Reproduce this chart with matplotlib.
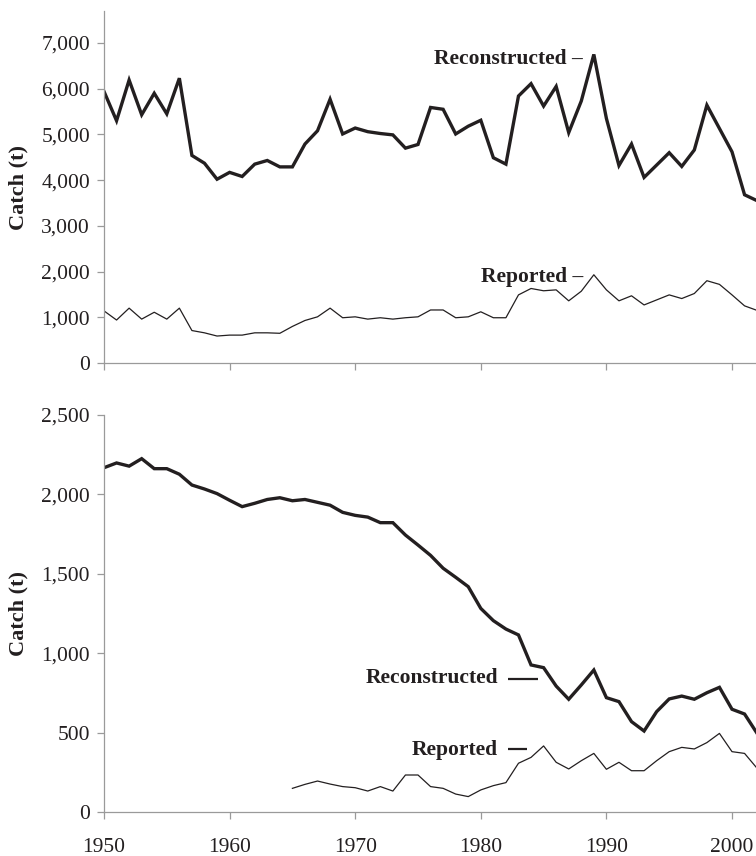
import matplotlib
matplotlib.use("Agg")
import matplotlib.pyplot as plt
from matplotlib.ticker import FuncFormatter

years_top = list(range(1950, 2003))
recon_top = [5940, 5300, 6190, 5430, 5900, 5450, 6230, 4540, 4370, 4020,
             4170, 4080, 4350, 4430, 4290, 4290, 4790, 5080, 5770, 5010,
             5140, 5060, 5020, 4990, 4700, 4780, 5590, 5550, 5010, 5180,
             5310, 4490, 4350, 5840, 6110, 5620, 6050, 5040, 5730, 6750,
             5350, 4320, 4790, 4060, 4330, 4600, 4300, 4660, 5640, 5130,
             4620, 3680, 3550]
rep_top = [1140, 940, 1200, 960, 1110, 960, 1200, 710, 660, 590,
           610, 610, 660, 660, 650, 800, 930, 1010, 1200, 990,
           1010, 960, 990, 960, 990, 1010, 1160, 1160, 990, 1010,
           1120, 990, 990, 1490, 1630, 1580, 1600, 1360, 1570, 1930,
           1600, 1360, 1470, 1270, 1380, 1490, 1410, 1520, 1800, 1720,
           1490, 1250, 1150]

years_bot = list(range(1950, 2003))
recon_bot = [2168, 2198, 2178, 2225, 2162, 2162, 2127, 2059, 2034, 2005,
             1963, 1923, 1944, 1968, 1979, 1960, 1968, 1950, 1932, 1887,
             1868, 1857, 1822, 1822, 1744, 1681, 1616, 1535, 1478, 1419,
             1282, 1205, 1152, 1115, 926, 909, 793, 710, 800, 894,
             720, 695, 569, 510, 632, 712, 730, 710, 751, 785,
             647, 617, 495]
years_rep_bot = list(range(1965, 2003))
rep_bot = [149, 174, 195, 176, 160, 153, 132, 160, 132, 233,
           233, 160, 149, 113, 97, 139, 166, 185, 307, 344,
           416, 313, 271, 323, 369, 269, 313, 260, 260, 323,
           380, 407, 397, 437, 495, 380, 369, 275]

top_yticks = [0, 1000, 2000, 3000, 4000, 5000, 6000, 7000]
bot_yticks = [0, 500, 1000, 1500, 2000, 2500]
xticks = [1950, 1960, 1970, 1980, 1990, 2000]

plt.rcParams['font.family'] = ['Liberation Serif', 'DejaVu Serif']
INK = '#231f20'
SPINE = '#9a9a9a'

W, H = 756, 856
fig = plt.figure(figsize=(W / 100, H / 100), dpi=100)

x_left, x_right = 104, 756
xmax = 1950 + (x_right - x_left) / 12.56

ax1 = fig.add_axes([x_left / W, 1 - 363 / H, (x_right - x_left) / W, 352 / H])
ax2 = fig.add_axes([x_left / W, 1 - 812 / H, (x_right - x_left) / W, 397 / H])

fmt = FuncFormatter(lambda v, p: f"{v:,.0f}")

for ax in (ax1, ax2):
    for s in ('top', 'right'):
        ax.spines[s].set_visible(False)
    for s in ('left', 'bottom'):
        ax.spines[s].set_color(SPINE)
        ax.spines[s].set_linewidth(0.9)
    ax.set_xlim(1950, xmax)
    ax.set_xticks(xticks)
    ax.tick_params(direction='out', color=SPINE, length=5, width=0.9,
                   labelsize=15.5, labelcolor=INK)
    ax.tick_params(axis='y', pad=5)
    ax.tick_params(axis='x', pad=14)
    ax.yaxis.set_major_formatter(fmt)
    ax.set_ylabel('Catch (t)', fontsize=16, fontweight='bold', color=INK)
    ax.yaxis.set_label_coords((28 - x_left) / (x_right - x_left), 0.5)

ax1.plot(years_top, recon_top, color=INK, lw=2.4, solid_joinstyle='miter')
ax1.plot(years_top, rep_top, color=INK, lw=0.9)
ax1.set_ylim(0, 7700)
ax1.set_yticks(top_yticks)
ax1.set_xticklabels([])

ax2.plot(years_bot, recon_bot, color=INK, lw=2.4, solid_joinstyle='miter')
ax2.plot(years_rep_bot, rep_bot, color=INK, lw=0.9)
ax2.set_ylim(0, 2500)
ax2.set_yticks(bot_yticks)

# annotations (top panel)
ax1.text((583 - x_left) / 652, (363 - 59) / 352, 'Reconstructed \u2013',
         transform=ax1.transAxes, ha='right', va='center', fontsize=15.5,
         fontweight='bold', color=INK)
ax1.text((583 - x_left) / 652, (363 - 277) / 352, 'Reported \u2013',
         transform=ax1.transAxes, ha='right', va='center', fontsize=15.5,
         fontweight='bold', color=INK)

# annotations (bottom panel)
ax2.text((498 - x_left) / 652, (812 - 678) / 397, 'Reconstructed',
         transform=ax2.transAxes, ha='right', va='center', fontsize=15.5,
         fontweight='bold', color=INK)
ax2.plot([(508 - x_left) / 652, (538 - x_left) / 652],
         [(812 - 679) / 397] * 2, transform=ax2.transAxes, color=INK, lw=1.6,
         solid_capstyle='butt')
ax2.text((498 - x_left) / 652, (812 - 750) / 397, 'Reported',
         transform=ax2.transAxes, ha='right', va='center', fontsize=15.5,
         fontweight='bold', color=INK)
ax2.plot([(508 - x_left) / 652, (527 - x_left) / 652],
         [(812 - 749) / 397] * 2, transform=ax2.transAxes, color=INK, lw=1.6,
         solid_capstyle='butt')

fig.savefig('out.png', dpi=100)
